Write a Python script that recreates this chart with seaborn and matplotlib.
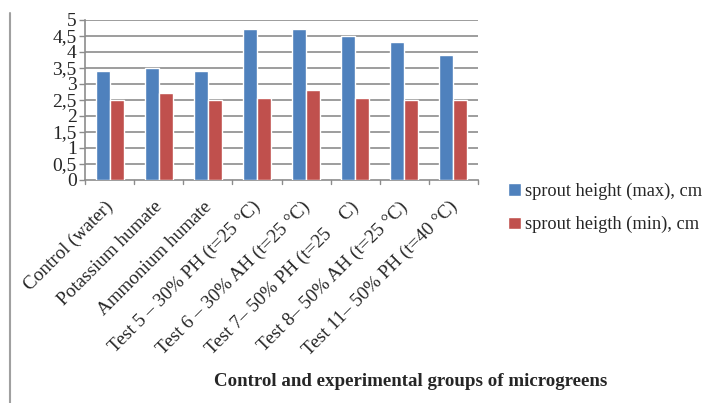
import matplotlib
matplotlib.use("Agg")
import matplotlib.pyplot as plt
import matplotlib.transforms as mtransforms
import seaborn as sns
import pandas as pd
import numpy as np
from matplotlib.lines import Line2D

categories = ["Control (water)", "Potassium humate", "Ammonium humate",
              "Test 5 – 30% PH (t=25 °C)", "Test 6 – 30% AH (t=25 °C)",
              "Test 7– 50% PH (t=25    C)", "Test 8– 50% AH (t=25 °C)",
              "Test 11– 50% PH (t=40 °C)"]
max_vals = [3.4, 3.5, 3.4, 4.7, 4.7, 4.5, 4.3, 3.9]
min_vals = [2.5, 2.7, 2.5, 2.56, 2.8, 2.56, 2.5, 2.5]
series = ["sprout height (max), cm", "sprout heigth (min), cm"]
yticks = [0, 0.5, 1, 1.5, 2, 2.5, 3, 3.5, 4, 4.5, 5]
ytick_labels = ["0", "0,5", "1", "1,5", "2", "2,5", "3", "3,5", "4", "4,5", "5"]
xlabel = "Control and experimental groups of microgreens"

df = pd.DataFrame({
    "group": categories * 2,
    "value": max_vals + min_vals,
    "series": [series[0]] * len(categories) + [series[1]] * len(categories),
})

sns.set_style("white")
plt.rcParams['font.family'] = ['Liberation Serif', 'DejaVu Serif']

fig = plt.figure(figsize=(7.13, 4.03), dpi=100)
ax = fig.add_axes([85/713, 1-180/403, (478-85)/713, (180-19.5)/403])

palette = {series[0]: "#4F81BD", series[1]: "#C0504D"}
sns.barplot(data=df, x="group", y="value", hue="series", palette=palette,
            width=0.57, ax=ax, saturation=1, legend=True, zorder=3)

ax.set_ylim(0, 5)
ax.set_xlim(-0.5, len(categories) - 0.5)
ax.set_yticks(yticks)
ax.set_yticklabels(ytick_labels, fontsize=14)
for y in yticks[1:]:
    ax.axhline(y, color="#8c8c8c", lw=1.2, zorder=1)

ax.set_xticks(np.arange(len(categories)))
ax.set_xticklabels(categories, rotation=45, ha="right", rotation_mode="anchor", fontsize=13.8)
ax.tick_params(axis="x", length=0, pad=13)
ax.tick_params(axis="y", length=4, width=1, color="#8c8c8c", left=True, pad=2)
shift = mtransforms.ScaledTranslation(-5/100, 0, fig.dpi_scale_trans)
for lbl in ax.get_xticklabels():
    lbl.set_transform(lbl.get_transform() + shift)
for b in np.arange(-0.5, len(categories), 1.0):
    ax.plot([b, b], [0, -0.12], color="#8c8c8c", lw=1, clip_on=False, zorder=4)

for s in ["top", "right"]:
    ax.spines[s].set_visible(False)
for s in ["left", "bottom"]:
    ax.spines[s].set_color("#8c8c8c")
    ax.spines[s].set_linewidth(1.2)
ax.set_xlabel("")
ax.set_ylabel("")

leg = ax.legend(loc="upper left", bbox_to_anchor=(501/713, 1-175/403),
                bbox_transform=fig.transFigure, frameon=False, fontsize=13.2,
                handlelength=0.7, handleheight=0.7, handletextpad=0.2,
                labelspacing=0.9, borderaxespad=0)

fig.text(411/713, 1-382/403, xlabel, ha="center", va="center",
         fontsize=13.6, fontweight="bold")
fig.add_artist(Line2D([10/713, 10/713], [0, 1-13/403], transform=fig.transFigure,
                      color="#a0a0a0", lw=1.5))

fig.savefig("out.png", dpi=100)
